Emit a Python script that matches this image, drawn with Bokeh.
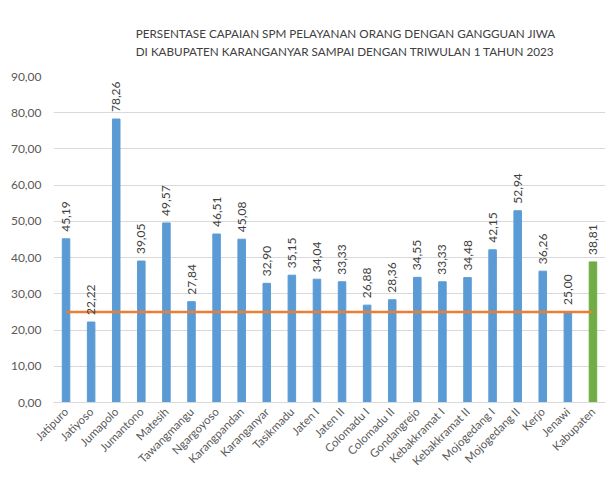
from math import pi
from bokeh.plotting import figure
from bokeh.models import (ColumnDataSource, Range1d, FixedTicker, CustomJSTickFormatter)
from bokeh.core.properties import value
from bokeh.embed import file_html
from bokeh.resources import INLINE

categories = ["Jatipuro", "Jatiyoso", "Jumapolo", "Jumantono", "Matesih", "Tawangmangu",
              "Ngargoyoso", "Karangpandan", "Karanganyar", "Tasikmadu", "Jaten I", "Jaten II",
              "Colomadu I", "Colomadu II", "Gondangrejo", "Kebakkramat I", "Kebakkramat II",
              "Mojogedang I", "Mojogedang II", "Kerjo", "Jenawi", "Kabupaten"]
capaian = [45.19, 22.22, 78.26, 39.05, 49.57, 27.84, 46.51, 45.08, 32.90, 35.15, 34.04, 33.33,
           26.88, 28.36, 34.55, 33.33, 34.48, 42.15, 52.94, 36.26, 25.00, 38.81]
target = [25.0] * len(categories)
y_ticks = [0, 10, 20, 30, 40, 50, 60, 70, 80, 90]
title_line1 = "PERSENTASE CAPAIAN SPM PELAYANAN ORANG DENGAN GANGGUAN JIWA"
title_line2 = "DI KABUPATEN KARANGANYAR SAMPAI DENGAN TRIWULAN 1 TAHUN 2023"

BLUE = "#5b9bd5"
GREEN = "#70ad47"
ORANGE = "#ed7d31"
FONT = "Lato"

idx = list(range(len(categories)))
colors = [GREEN if c == "Kabupaten" else BLUE for c in categories]
labels = [f"{v:.2f}".replace(".", ",") for v in capaian]

src = ColumnDataSource(dict(x=idx, top=capaian, color=colors, label=labels, target=target))

p = figure(width=606, height=475, output_backend="svg", toolbar_location=None,
           x_range=Range1d(-0.5, len(categories) - 0.5), y_range=Range1d(0, 90),
           min_border_left=53, min_border_right=1, min_border_top=76, min_border_bottom=0)
p.outline_line_color = None
p.background_fill_color = "white"
p.border_fill_color = "white"

p.vbar(x="x", top="top", width=0.3, color="color", source=src)
p.line(x="x", y="target", line_color=ORANGE, line_width=2.5, source=src)
p.text(x="x", y="top", text="label", angle=pi / 2, text_align="left", text_baseline="middle",
       x_offset=0, y_offset=-7, text_font=value(FONT), text_font_size="12px",
       text_color="#404040", source=src)

p.xgrid.grid_line_color = None
p.ygrid.grid_line_color = "#d9d9d9"
p.ygrid.grid_line_width = 1

p.yaxis.ticker = FixedTicker(ticks=y_ticks)
p.yaxis.formatter = CustomJSTickFormatter(code="return tick.toFixed(2).replace('.', ',');")
p.yaxis.axis_line_color = None
p.yaxis.major_tick_line_color = None
p.yaxis.minor_tick_line_color = None
p.yaxis.major_label_text_font = FONT
p.yaxis.major_label_text_font_size = "12px"
p.yaxis.major_label_text_color = "#595959"
p.yaxis.major_label_standoff = 6

p.xaxis.ticker = FixedTicker(ticks=idx)
p.xaxis.major_label_overrides = {i: c for i, c in zip(idx, categories)}
p.xaxis.major_label_orientation = pi / 4
p.xaxis.axis_line_color = "#d9d9d9"
p.xaxis.major_tick_line_color = None
p.xaxis.minor_tick_line_color = None
p.xaxis.major_label_text_font = FONT
p.xaxis.major_label_text_font_size = "11.5px"
p.xaxis.major_label_text_color = "#595959"
p.xaxis.major_label_standoff = 1

p.title.text = title_line1 + "\n" + title_line2
p.title.align = "right"
p.title.offset = 50
p.title.text_font = FONT
p.title.text_font_size = "11.7px"
p.title.text_font_style = "normal"
p.title.text_color = "#404040"
p.title.text_line_height = 1.3
p.title.standoff = 36

open("out.html", "w").write(file_html(p, INLINE))
